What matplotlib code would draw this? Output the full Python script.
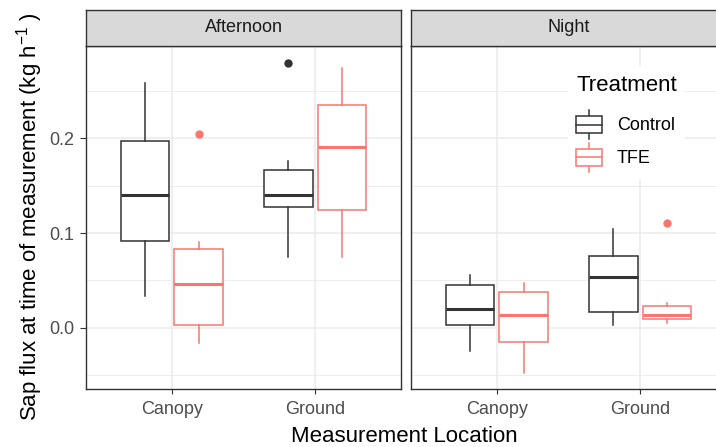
import matplotlib
matplotlib.use("Agg")
import matplotlib.pyplot as plt
from matplotlib.patches import Rectangle, Patch
from matplotlib.lines import Line2D
from matplotlib.legend_handler import HandlerBase

plt.rcParams['font.family'] = ['Liberation Sans', 'DejaVu Sans']
plt.rcParams['mathtext.fontset'] = 'custom'
plt.rcParams['mathtext.rm'] = 'Liberation Sans'
plt.rcParams['mathtext.it'] = 'Liberation Sans:italic'

# ---------------- data ----------------
periods = ["Afternoon", "Night"]
locations = ["Canopy", "Ground"]
treatments = ["Control", "TFE"]
treat_colors = ["#333333", "#F8766D"]

# box statistics per period -> location -> treatment
whislo = {"Afternoon": [[0.034, -0.016], [0.075, 0.075]],
          "Night":     [[-0.025, -0.0475], [0.0025, 0.0053]]}
q1 = {"Afternoon": [[0.0912, 0.003], [0.127, 0.124]],
      "Night":     [[0.0032, -0.015], [0.0166, 0.0089]]}
med = {"Afternoon": [[0.1405, 0.046], [0.1405, 0.1905]],
       "Night":     [[0.020, 0.013], [0.0539, 0.013]]}
q3 = {"Afternoon": [[0.197, 0.0834], [0.1665, 0.235]],
      "Night":     [[0.0454, 0.0377], [0.0757, 0.0229]]}
whishi = {"Afternoon": [[0.258, 0.091], [0.176, 0.2745]],
          "Night":     [[0.0553, 0.0472], [0.1045, 0.0258]]}
fliers = {"Afternoon": [[[], [0.2045]], [[0.280], []]],
          "Night":     [[[], []], [[], [0.1106]]]}

y_ticks = [0.0, 0.1, 0.2]
y_minor = [-0.05, 0.05, 0.15, 0.25]
y_lim = (-0.0647, 0.2975)

# ---------------- layout ----------------
W, H = 716, 447
fig = plt.figure(figsize=(W / 100, H / 100), dpi=100)

def fx(px):
    return px / W

def fy(py):
    return 1 - py / H

panel_lefts = [86, 411]
panel_w = 315
panel_top, panel_bot = 46, 389
strip_top = 10

border = "#333333"
grid_c = "#EBEBEB"
tick_c = "#4D4D4D"

axes = []
for i, period in enumerate(periods):
    L = panel_lefts[i]
    ax = fig.add_axes([fx(L), fy(panel_bot), fx(panel_w), (panel_bot - panel_top) / H])
    axes.append(ax)
    ax.set_xlim(0.4, 2.6)
    ax.set_ylim(*y_lim)
    ax.set_yticks(y_ticks)
    ax.set_yticks(y_minor, minor=True)
    ax.set_xticks([1, 2])
    ax.set_xticklabels(locations)
    ax.grid(True, which='major', color=grid_c, linewidth=1.1, zorder=0)
    ax.grid(True, which='minor', axis='y', color=grid_c, linewidth=0.6, zorder=0)
    ax.set_axisbelow(True)
    for s in ax.spines.values():
        s.set_color(border)
        s.set_linewidth(1.0)
    ax.tick_params(axis='x', which='major', length=3.8, width=0.8, color=border,
                   labelcolor=tick_c, labelsize=13, pad=4.5)
    ax.tick_params(axis='y', which='major', length=4.2, width=0.8, color=border,
                   labelcolor=tick_c, labelsize=13, pad=4.0)
    ax.tick_params(axis='both', which='minor', length=0)
    if i == 0:
        ax.set_yticklabels([f"{v:.1f}" for v in y_ticks])
    else:
        ax.tick_params(axis='y', which='both', left=False, labelleft=False)

    for li, loc in enumerate(locations):
        for ti, tr in enumerate(treatments):
            stats = [{
                "whislo": whislo[period][li][ti],
                "q1": q1[period][li][ti],
                "med": med[period][li][ti],
                "q3": q3[period][li][ti],
                "whishi": whishi[period][li][ti],
                "fliers": fliers[period][li][ti],
            }]
            c = treat_colors[ti]
            pos = (li + 1) + (-0.1875 if ti == 0 else 0.1875)
            ax.bxp(stats, positions=[pos], widths=0.34, showcaps=False,
                   patch_artist=True, manage_ticks=False,
                   boxprops=dict(facecolor='white', edgecolor=c, linewidth=1.1),
                   whiskerprops=dict(color=c, linewidth=1.1),
                   medianprops=dict(color=c, linewidth=2.2),
                   flierprops=dict(marker='o', markerfacecolor=c, markeredgecolor=c,
                                   markersize=5, linestyle='none'))

    # strip
    sax = fig.add_axes([fx(L), fy(panel_top), fx(panel_w), (panel_top - strip_top) / H])
    sax.set_facecolor("#D9D9D9")
    sax.set_xticks([])
    sax.set_yticks([])
    for s in sax.spines.values():
        s.set_color(border)
        s.set_linewidth(1.0)
    sax.text(0.5, 0.5, period, transform=sax.transAxes, ha='center', va='center',
             fontsize=13, color="#1A1A1A")

# axis titles
fig.text(fx(404), fy(436), "Measurement Location", ha='center', va='center', fontsize=16)
fig.text(fx(30), fy(217), r"Sap flux at time of measurement (kg h$^{-1}$ )", rotation=90,
         ha='center', va='center', fontsize=16)


# legend with boxplot glyphs
class BoxHandler(HandlerBase):
    def create_artists(self, legend, orig_handle, xdescent, ydescent, width, height,
                       fontsize, trans):
        c = orig_handle.get_edgecolor()
        x0, y0 = -xdescent, -ydescent
        cx = x0 + width / 2
        wl = Line2D([cx, cx], [y0, y0 + height], color=c, linewidth=1.1, transform=trans)
        rect = Rectangle((x0, y0 + 0.2 * height), width, 0.6 * height, facecolor='white',
                         edgecolor=c, linewidth=1.1, transform=trans)
        ml = Line2D([x0, x0 + width], [y0 + 0.5 * height] * 2, color=c, linewidth=1.1,
                    transform=trans)
        return [wl, rect, ml]


handles = [Patch(edgecolor=c, facecolor='white') for c in treat_colors]
leg = fig.legend(handles, treatments, handler_map={Patch: BoxHandler()},
                 loc='upper left', bbox_to_anchor=(fx(568), fy(67)),
                 bbox_transform=fig.transFigure, frameon=True, fancybox=False,
                 edgecolor='none', facecolor='white', framealpha=1.0,
                 title="Treatment", title_fontsize=16, fontsize=13,
                 handlelength=1.45, handleheight=2.1, handletextpad=0.8,
                 labelspacing=0.2, borderpad=0.45, borderaxespad=0)
leg._legend_box.align = "left"
leg._legend_box.sep = 10

fig.savefig("out.png", dpi=100)
